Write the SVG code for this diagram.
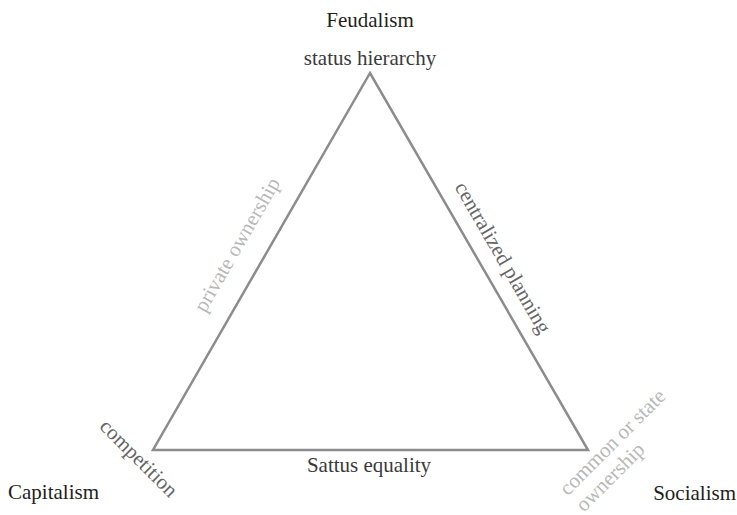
<svg xmlns="http://www.w3.org/2000/svg" width="737" height="515" viewBox="0 0 737 515">
  <style>
    text { font-family: "Liberation Serif", "Times New Roman", serif; font-size: 21px; }
    .system { fill: #231f20; }
    .pole { fill: #3a3a3a; }
    .edge-dark { fill: #666666; }
    .edge-light { fill: #b8b8b8; }
    .frame { fill: none; stroke: #8c8c8c; stroke-width: 2.5; stroke-linejoin: miter; }
  </style>
  <rect width="737" height="515" fill="#ffffff"/>

  <!-- triangle connecting the three systems -->
  <g id="connectors">
    <polygon class="frame" points="370,73 153,450 588,450"/>
  </g>

  <g id="node-feudalism">
    <text class="system" x="370" y="27" text-anchor="middle">Feudalism</text>
    <text class="pole" x="370" y="65" text-anchor="middle">status hierarchy</text>
  </g>

  <g id="node-capitalism">
    <text class="system" x="8" y="499">Capitalism</text>
    <text class="edge-dark" x="134" y="463" text-anchor="middle" transform="rotate(45 134 463)">competition</text>
  </g>

  <g id="node-socialism">
    <text class="system" x="736" y="500" text-anchor="end">Socialism</text>
    <text class="edge-light" transform="rotate(-45 618 449)">
      <tspan x="549" y="447">common or state</tspan>
      <tspan x="549" y="470">ownership</tspan>
    </text>
  </g>

  <g id="edge-labels">
    <text class="edge-light" x="243" y="248" text-anchor="middle" transform="rotate(-60 243 248)">private ownership</text>
    <text class="edge-dark" x="497" y="261" text-anchor="middle" transform="rotate(60 497 261)">centralized planning</text>
    <text class="pole" x="369" y="472" text-anchor="middle">Sattus equality</text>
  </g>
</svg>
